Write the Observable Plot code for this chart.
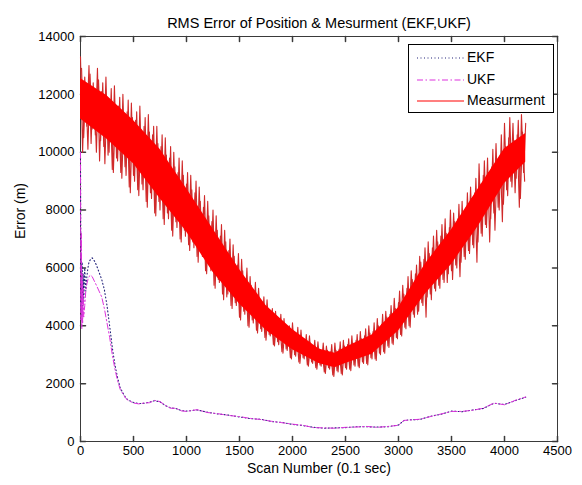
<!DOCTYPE html>
<html><head><meta charset="utf-8">
<script src="https://cdn.jsdelivr.net/npm/d3@7"></script>
<script src="https://cdn.jsdelivr.net/npm/@observablehq/plot@0.6"></script>
<style>
body{margin:0;background:#fff;}
#wrap{position:relative;width:582px;height:485px;font-family:Arial,"Liberation Sans",Helvetica,sans-serif;}
#legend{position:absolute;left:408px;top:44px;width:144px;height:67px;border:1px solid #000;background:#fff;font-size:14px;}
#legend .row{position:absolute;left:0;height:20px;width:144px;}
#legend svg{position:absolute;left:7px;top:0;}
#legend span{position:absolute;left:58px;top:1px;color:#000;}
</style>
</head><body><div id="wrap"><div id="chart"></div><div id="legend"></div></div>
<script>
const titleText = "RMS Error of Position & Mesurment (EKF,UKF)";
const xLabel = "Scan Number (0.1 sec)";
const yLabel = "Error (m)";
const xTicks = [0, 500, 1000, 1500, 2000, 2500, 3000, 3500, 4000, 4500];
const yTicks = [0, 2000, 4000, 6000, 8000, 10000, 12000, 14000];
const seriesNames = ["EKF", "UKF", "Measurment"];
const seriesColors = ["#22227a", "#dd33dd", "#ff0000"];
const fringeColor = "#d02a2a";

// Measurement: raw jagged samples, one every 20 scans (scans 0, 20, ... 4200)
const measStep = 20;
const measZig = [
  13300,10000,12600,10900,13000,10300,12400,10600,12900,9700,
  12100,10200,12600,9900,11800,9400,12300,9800,11600,9300,
  12000,9500,11400,8800,11700,9200,11100,8700,11600,8900,
  10900,8300,11300,8600,10600,7900,10900,8300,10200,7700,
  10500,7900,9800,7300,10000,7600,9300,7000,9700,7300,
  8900,6800,9200,6900,8600,6400,8800,6600,8100,5900,
  8300,6100,7600,5400,7800,5600,7100,5100,7300,5000,
  6600,4700,6800,4800,6100,4300,6300,4500,5600,4000,
  5700,4200,5200,3850,5300,3900,4700,3600,4900,3700,
  4350,3350,4500,3450,4050,3100,4250,3200,3850,2900,
  4100,3000,3700,2750,3850,2900,3450,2650,3650,2750,
  3250,2550,3450,2650,3100,2400,3300,2550,3100,2300,
  3400,2450,3200,2350,3500,2550,3350,2500,3650,2650,
  3500,2600,3800,2750,3650,2700,4000,2900,3800,2850,
  4250,3050,4050,3100,4500,3300,4400,3400,4950,3600,
  4800,3700,5400,3950,5300,4000,5900,4400,5800,4400,
  6400,4800,6300,4300,6900,5100,6700,5300,7300,5400,
  7100,5600,7700,5500,7400,5900,7900,6100,7700,5700,
  8300,6400,8100,6600,8800,6800,8600,6200,9600,7200,
  9200,7500,9800,6900,9500,7900,10300,8100,9900,7600,
  11000,8700,10500,9000,11000,8600,10600,8100,11300,9300,
  11000
];
// Measurement: the samples in between (scans 10, 30, ... 4190)
const measZig2 = [
  12900,10500,12300,10100,12700,10800,12200,10000,12500,10400,
  12400,9600,11900,10000,12200,9300,11500,9700,11900,9100,
  11300,9200,11800,8600,11200,9000,11400,8500,10800,8700,
  11200,8100,10700,8400,10900,7800,10300,8000,10600,7500,
  9900,7700,10200,7100,9500,7400,9800,6900,9200,7100,
  9300,6600,8700,6700,9000,6200,8300,6400,8500,5800,
  7800,5900,8000,5300,7300,5500,7500,4900,6900,5100,
  7000,4600,6400,4700,6500,4200,5900,4400,6000,3950,
  5400,4100,5500,3750,4900,3800,5000,3500,4500,3650,
  4600,3300,4200,3350,4400,3050,3950,3150,4000,2850,
  3800,2950,3950,2700,3550,2850,3700,2600,3400,2700,
  3500,2500,3200,2600,3400,2350,3150,2500,3350,2250,
  3150,2400,3450,2300,3300,2500,3550,2450,3400,2600,
  3700,2550,3550,2700,3900,2650,3750,2850,4100,2800,
  4000,3000,4400,3050,4300,3250,4700,3350,4600,3550,
  5200,3650,5100,3900,5700,3950,5600,4300,6100,4500,
  6200,4700,6700,5000,6500,4900,7100,5200,6900,5300,
  7500,5500,7200,5800,8000,5600,7600,6000,8200,6200,
  7900,6300,8600,6500,8400,6700,9100,6900,8900,7100,
  9700,7400,9300,7700,10100,7300,9700,8000,10600,8200,
  10200,8500,11200,8800,10400,9100,11100,8400,10700,9000
];
// Measurement: dense solid core (upper / lower edge of the core)
const envScan  = [0, 250, 500, 750, 1000, 1250, 1500, 1750, 2000, 2250, 2400, 2500, 2750, 3000, 3250, 3500, 3750, 4000, 4200];
const envUpper = [12550, 11950, 11100, 10100, 8750, 7350, 5950, 4700, 3870, 3200, 3050, 3250, 3680, 4620, 6120, 7320, 8720, 10120, 10650];
const envLower = [11150, 10450, 9600, 8400, 7250, 5850, 4750, 3850, 3170, 2700, 2550, 2700, 3020, 3820, 5080, 6120, 7420, 8920, 9650];

// Filters
const filterScan = [0,4,8,12,16,20,25,30,40,50, 60,70,80,95,110,130,150,175,200,225,
  250,275,300,325,350,375,400,425,450,500, 550,600,650,700,750,800,850,900,950,1000,
  1100,1200,1300,1400,1500,1600,1700,1800,1900,2000, 2100,2200,2300,2400,2500,2600,2700,2800,2900,3000,
  3050,3100,3200,3300,3400,3500,3600,3700,3800,3900, 4000,4100,4200];
const ukfErr = [10000,4200,7200,3900,5800,4100,5300,4300,4700,5200, 5450,5600,5700,5750,5700,5550,5400,5200,5000,4600,
  4100,3600,3000,2500,2100,1800,1650,1500,1420,1330, 1300,1330,1340,1420,1380,1250,1150,1150,1060,1040,
  1100,1000,960,900,860,800,760,700,650,600, 560,480,470,460,490,500,520,490,520,560,
  730,740,770,860,950,1040,1040,1080,1150,1330, 1270,1420,1540];
const ekfErr = [9800,4600,6500,4300,6200,4500,5800,4800,6000,5200, 5700,6000,6200,6300,6350,6250,6100,5850,5600,5250,
  4700,4000,3250,2650,2200,1850,1680,1520,1430,1350, 1310,1320,1360,1410,1370,1240,1160,1140,1070,1050,
  1090,1010,950,910,850,790,770,690,660,590, 550,490,460,470,480,510,510,500,510,570,
  720,750,760,870,940,1050,1030,1090,1140,1320, 1280,1410,1530];

const meas = measZig.map((v, i) => ({scan: i * measStep, err: v}));
const meas2 = measZig2.map((v, i) => ({scan: measStep / 2 + i * measStep, err: v}));
const band = envScan.map((s, i) => ({scan: s, lo: envLower[i], hi: envUpper[i]}));
const ekf = filterScan.map((s, i) => ({scan: s, err: ekfErr[i]}));
const ukf = filterScan.map((s, i) => ({scan: s, err: ukfErr[i]}));

const tickShape = {draw(ctx, l) { ctx.moveTo(0, 0); ctx.lineTo(0, -l); }};
const axisColor = "#3a3a3a";
const tickLen = 5;

const chart = Plot.plot({
  width: 582, height: 485,
  marginLeft: 80, marginRight: 25, marginTop: 36, marginBottom: 44,
  style: {fontFamily: 'Arial, "Liberation Sans", Helvetica, sans-serif', fontSize: "13px", background: "#fff", color: "#000"},
  x: {domain: [0, 4500]},
  y: {domain: [0, 14000]},
  marks: [
    Plot.frame({stroke: axisColor}),
    Plot.vector(xTicks, {x: d => d, frameAnchor: "bottom", anchor: "start", rotate: 0, length: tickLen, shape: tickShape, stroke: axisColor}),
    Plot.vector(xTicks, {x: d => d, frameAnchor: "top", anchor: "start", rotate: 180, length: tickLen, shape: tickShape, stroke: axisColor}),
    Plot.vector(yTicks, {y: d => d, frameAnchor: "left", anchor: "start", rotate: 90, length: tickLen, shape: tickShape, stroke: axisColor}),
    Plot.vector(yTicks, {y: d => d, frameAnchor: "right", anchor: "start", rotate: -90, length: tickLen, shape: tickShape, stroke: axisColor}),
    Plot.line(ekf, {x: "scan", y: "err", stroke: seriesColors[0], strokeWidth: 1.1, strokeDasharray: "1,2.5"}),
    Plot.line(ukf, {x: "scan", y: "err", stroke: seriesColors[1], strokeWidth: 1, strokeDasharray: "6,2.5,1.5,2.5"}),
    Plot.line(meas, {x: "scan", y: "err", stroke: fringeColor, strokeWidth: 1.1}),
    Plot.line(meas2, {x: "scan", y: "err", stroke: fringeColor, strokeWidth: 1.1}),
    Plot.areaY(band, {x: "scan", y1: "lo", y2: "hi", fill: seriesColors[2]}),
    Plot.axisX({ticks: xTicks, tickSize: 0, tickPadding: 4, label: null, tickFormat: d => String(d)}),
    Plot.axisY({ticks: yTicks, tickSize: 0, tickPadding: 6, label: null, tickFormat: d => String(d)}),
    Plot.text([titleText], {frameAnchor: "top", dy: -19, fontSize: 14.5}),
    Plot.text([xLabel], {frameAnchor: "bottom", dy: 31, fontSize: 14}),
    Plot.text([yLabel], {frameAnchor: "left", rotate: -90, dx: -60, dy: 0, fontSize: 14})
  ]
});
document.getElementById("chart").appendChild(chart);

// Legend
const legend = document.getElementById("legend");
const dashes = ["1,2.5", "6,2.5,1.5,2.5", null];
seriesNames.forEach((name, i) => {
  const row = document.createElement("div");
  row.className = "row";
  row.style.top = (3 + i * 21.5) + "px";
  const svg = d3.create("svg").attr("width", 50).attr("height", 20);
  svg.append("line").attr("x1", 1).attr("x2", 48).attr("y1", 10).attr("y2", 10)
    .attr("stroke", seriesColors[i]).attr("stroke-width", 1.1)
    .attr("stroke-dasharray", dashes[i]);
  row.appendChild(svg.node());
  const sp = document.createElement("span");
  sp.textContent = name;
  row.appendChild(sp);
  legend.appendChild(row);
});
</script>
</body></html>
